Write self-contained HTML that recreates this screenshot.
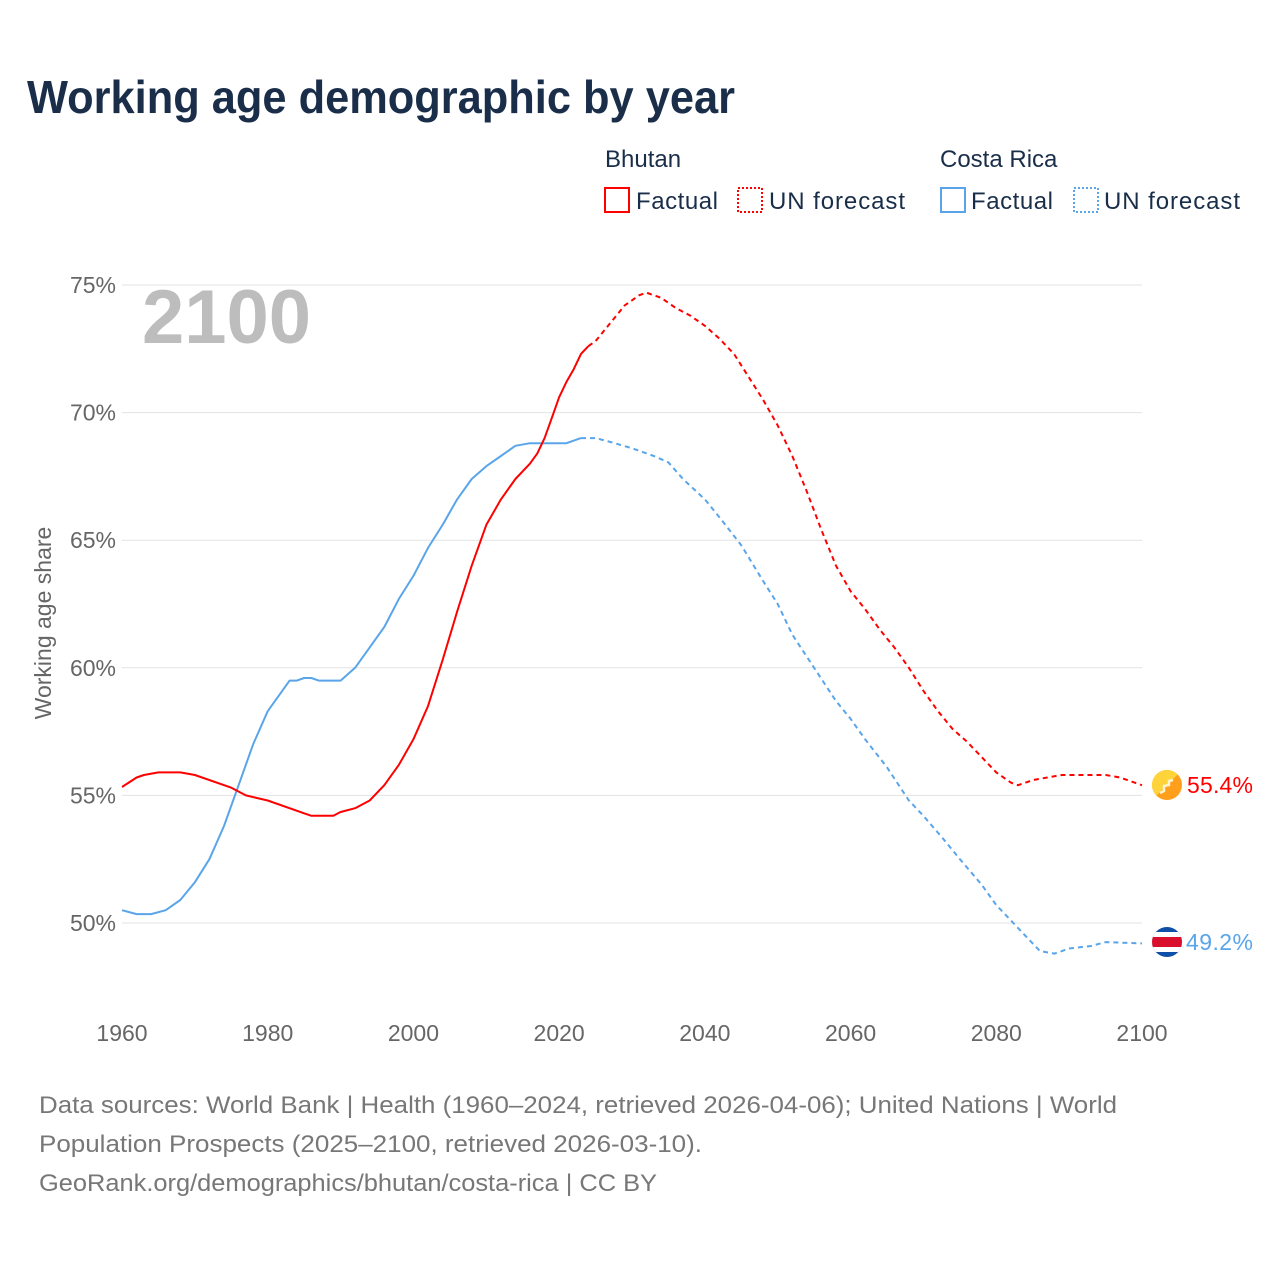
<!DOCTYPE html>
<html><head><meta charset="utf-8"><style>
body{margin:0;background:#fff;font-family:"Liberation Sans",sans-serif;}
svg text{font-family:"Liberation Sans",sans-serif;}
</style></head><body>
<svg width="1280" height="1280" xmlns="http://www.w3.org/2000/svg">
<text x="27" y="113" font-size="46" font-weight="bold" fill="#1a2e4a" textLength="708" lengthAdjust="spacingAndGlyphs">Working age demographic by year</text>
<g font-size="24" fill="#1a2e4a">
<text x="605" y="167">Bhutan</text>
<text x="940" y="167">Costa Rica</text>
<rect x="605" y="188" width="24" height="24" fill="none" stroke="#f00" stroke-width="2"/>
<text x="636" y="209" textLength="82">Factual</text>
<rect x="738" y="188" width="24" height="24" fill="none" stroke="#f00" stroke-width="2" stroke-dasharray="2,2"/>
<text x="769" y="209" textLength="136">UN forecast</text>
<rect x="941" y="188" width="24" height="24" fill="none" stroke="#5aa5ea" stroke-width="2"/>
<text x="971" y="209" textLength="82">Factual</text>
<rect x="1074" y="188" width="24" height="24" fill="none" stroke="#5aa5ea" stroke-width="2" stroke-dasharray="2,2"/>
<text x="1104" y="209" textLength="136">UN forecast</text>
</g>
<g id="grid"></g>
<text x="142" y="343" font-size="76" font-weight="bold" fill="#bdbdbd">2100</text>
<text transform="translate(51,623) rotate(-90)" text-anchor="middle" font-size="23" fill="#666">Working age share</text>
<g id="series"></g>
<g>
<clipPath id="cb"><circle cx="1167" cy="785" r="15"/></clipPath>
<g clip-path="url(#cb)"><rect x="1150" y="768" width="34" height="34" fill="#ff9f1c"/><polygon points="1150,768 1184,768 1150,802" fill="#ffd43b"/></g>
<path d="M1160,793 l4,-2 l0,-5 l5,-1 l0,-4 l4,-1" stroke="#fff3d0" stroke-width="2.5" fill="none"/>
</g>
<g>
<clipPath id="cc"><circle cx="1167" cy="942" r="15"/></clipPath>
<g clip-path="url(#cc)"><rect x="1150" y="925" width="34" height="34" fill="#0f4fa8"/><rect x="1150" y="932" width="34" height="20" fill="#fff"/><rect x="1150" y="937" width="34" height="10" fill="#d90f2c"/></g>
</g>
<text x="1187" y="793" font-size="23" fill="#f00" textLength="66">55.4%</text>
<text x="1186" y="950" font-size="23" fill="#5aa5ea" textLength="67">49.2%</text>
<g font-size="24" fill="#777">
<text x="39" y="1113" textLength="1078" lengthAdjust="spacingAndGlyphs">Data sources: World Bank | Health (1960–2024, retrieved 2026-04-06); United Nations | World</text>
<text x="39" y="1152" textLength="663" lengthAdjust="spacingAndGlyphs">Population Prospects (2025–2100, retrieved 2026-03-10).</text>
<text x="39" y="1191" textLength="618" lengthAdjust="spacingAndGlyphs">GeoRank.org/demographics/bhutan/costa-rica | CC BY</text>
</g>
</svg>
<script>
const yTicks=[50,55,60,65,70,75];
const xTicks=[1960,1980,2000,2020,2040,2060,2080,2100];
const bhutanYears=[1960,1962,1963,1965,1968,1970,1975,1977,1980,1985,1986,1989,1990,1992,1994,1996,1998,2000,2002,2004,2006,2008,2010,2012,2014,2016,2017,2018,2019,2020,2021,2022,2023,2024,2025,2027,2029,2031,2032,2034,2036,2038,2040,2042,2044,2046,2048,2050,2052,2054,2056,2058,2060,2062,2064,2066,2068,2070,2072,2074,2076,2078,2080,2082,2083,2085,2087,2089,2095,2097,2100];
const bhutanValues=[55.33,55.7,55.8,55.9,55.9,55.8,55.3,55.0,54.8,54.3,54.2,54.2,54.35,54.5,54.8,55.4,56.2,57.2,58.5,60.3,62.2,64.0,65.6,66.6,67.4,68.0,68.4,69.0,69.8,70.6,71.2,71.7,72.3,72.6,72.8,73.5,74.2,74.6,74.7,74.5,74.1,73.8,73.4,72.9,72.3,71.4,70.5,69.5,68.3,66.9,65.4,64.0,63.0,62.3,61.5,60.8,60.0,59.1,58.3,57.6,57.1,56.5,55.9,55.5,55.4,55.6,55.7,55.8,55.8,55.7,55.4];
const costaYears=[1960,1962,1964,1966,1968,1970,1972,1974,1976,1978,1980,1982,1983,1984,1985,1986,1987,1990,1992,1994,1996,1998,2000,2002,2004,2006,2008,2010,2012,2014,2016,2018,2021,2023,2025,2027,2030,2033,2035,2037,2040,2042,2045,2048,2050,2052,2055,2058,2060,2062,2065,2068,2070,2073,2075,2078,2080,2082,2084,2086,2088,2090,2093,2095,2100];
const costaValues=[50.5,50.35,50.35,50.5,50.9,51.6,52.5,53.8,55.4,57.0,58.3,59.1,59.5,59.5,59.6,59.6,59.5,59.5,60.0,60.8,61.6,62.7,63.6,64.7,65.6,66.6,67.4,67.9,68.3,68.7,68.8,68.8,68.8,69.0,69.0,68.85,68.6,68.3,68.05,67.4,66.6,65.9,64.8,63.4,62.5,61.3,60.0,58.7,58.0,57.2,56.1,54.8,54.2,53.2,52.5,51.5,50.7,50.1,49.5,48.9,48.8,49.0,49.1,49.25,49.2];
const lastFactual=2024;
const X=y=>122+(y-1960)*1020/140;
const Y=v=>923-(v-50)*638/25;
const NS="http://www.w3.org/2000/svg";
const grid=document.getElementById('grid');
yTicks.forEach(t=>{
 const l=document.createElementNS(NS,'line');
 l.setAttribute('x1',122);l.setAttribute('x2',1142);l.setAttribute('y1',Y(t));l.setAttribute('y2',Y(t));
 l.setAttribute('stroke','#e3e3e3');l.setAttribute('stroke-width','1');
 
 
 grid.appendChild(l);
 const tx=document.createElementNS(NS,'text');
 tx.setAttribute('x',116);tx.setAttribute('y',Y(t)+8);tx.setAttribute('text-anchor','end');
 tx.setAttribute('font-size','23');tx.setAttribute('fill','#666');tx.textContent=t+'%';
 
 
 grid.appendChild(tx);
});
xTicks.forEach(t=>{
 const tx=document.createElementNS(NS,'text');
 tx.setAttribute('x',X(t));tx.setAttribute('y',1041);tx.setAttribute('text-anchor','middle');
 tx.setAttribute('font-size','23');tx.setAttribute('fill','#666');tx.textContent=t;
 
 
 grid.appendChild(tx);
});
const ser=document.getElementById('series');
function draw(years,vals,color,name){
 const fact=[],fc=[];
 years.forEach((y,i)=>{const p=X(y).toFixed(1)+','+Y(vals[i]).toFixed(1);
  if(y<=lastFactual)fact.push(p); if(y>=lastFactual)fc.push(p);});
 if(fc.length&&years.indexOf(lastFactual)<0){const k=years.findIndex(y=>y>lastFactual);fc.unshift(X(years[k-1]).toFixed(1)+','+Y(vals[k-1]).toFixed(1));}
 [[fact,null,'factual'],[fc,'5,4','forecast']].forEach(([pts,d,s])=>{
  const pl=document.createElementNS(NS,'polyline');
  pl.setAttribute('points',pts.join(' '));pl.setAttribute('fill','none');
  pl.setAttribute('stroke',color);pl.setAttribute('stroke-width','2');
  pl.setAttribute('stroke-linejoin','round');
  if(d)pl.setAttribute('stroke-dasharray',d);
  
  
  ser.appendChild(pl);
 });
}
draw(costaYears,costaValues,'#5aa5ea','costa-rica');
draw(bhutanYears,bhutanValues,'#f00','bhutan');
</script>
</body></html>
